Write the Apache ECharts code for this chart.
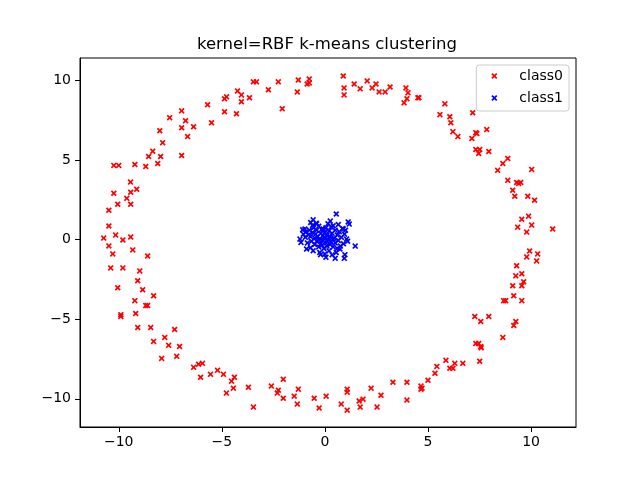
<!DOCTYPE html>
<html lang="en">
<head>
    <meta charset="UTF-8">
    <title>kernel=RBF k-means clustering</title>
    <script src="https://cdn.jsdelivr.net/npm/echarts/dist/echarts.min.js"></script>
    <style>
        html, body { margin: 0; padding: 0; background: #fff; }
        #paint { width: 640px; height: 480px; }
    </style>
</head>
<body>
<div id="paint"></div>

<script type="text/javascript">
    var titleText = 'kernel=RBF k-means clustering';
    var seriesNames = ['class0', 'class1'];
    var xTicks = [-10, -5, 0, 5, 10];
    var yTicks = [-10, -5, 0, 5, 10];

    // outer ring
    var class0 = [
        [-10.24,4.67],[-10.0,4.67],[-9.22,4.73],[-8.69,4.6],[-9.43,3.62],[-8.55,5.23],[-8.35,5.56],[-7.97,5.23],
        [-8.11,4.79],[-7.87,6.1],[-8.01,6.85],[-7.53,7.67],[-6.95,8.1],[-6.76,7.48],[-6.95,7.04],[-6.66,6.48],
        [-6.37,7.1],[-6.95,5.29],[-5.69,8.48],[-5.5,7.35],[-4.87,8.86],[-4.77,8.98],[-4.87,8.04],[-4.24,9.35],
        [-4.05,9.1],[-4.05,8.67],[-4.29,7.92],[-3.66,8.92],[-3.47,9.92],[-3.32,9.92],[-2.74,9.42],[-2.26,9.92],
        [-2.07,8.23],[-1.29,10.04],[-1.34,9.29],[-0.86,9.79],[-0.76,10.1],[-0.76,9.85],
        [0.89,10.29],[0.93,9.54],[0.93,9.1],[1.42,9.79],[1.71,9.48],[2.05,9.98],[2.29,9.54],[2.48,9.79],
        [2.63,9.29],[2.92,9.29],[3.16,9.6],[3.93,9.54],[4.03,9.23],[3.98,8.86],[3.84,8.6],[4.51,8.92],
        [4.56,8.92],[5.82,8.54],[5.58,7.86],[6.06,7.73],[6.11,7.35],[6.21,6.79],[6.45,6.48],[7.17,7.98],
        [7.13,6.36],[7.32,6.73],[7.37,6.67],[7.85,6.92],[7.32,5.67],[7.51,5.67],[7.46,5.42],[7.95,5.54],
        [8.87,5.1],[8.63,4.79],[8.38,4.36],[8.87,3.73],[9.3,3.6],[9.5,3.6],[10.03,4.42],
        [9.4,3.54],[9.11,3.11],[9.21,2.73],[9.84,2.73],[10.17,2.48],[9.88,1.48],[9.55,1.29],[9.35,0.79],
        [10.03,0.92],[9.79,0.48],[11.05,0.67],[9.93,-0.71],[10.32,-0.89],[9.79,-1.08],[10.27,-1.33],[9.3,-1.64],
        [9.55,-2.14],[9.26,-2.27],[9.64,-2.64],[9.11,-2.89],[9.55,-2.89],[9.16,-3.52],[8.67,-3.83],[8.77,-3.83],
        [9.55,-3.83],
        [7.27,-4.83],[7.56,-5.14],[7.95,-4.83],[9.16,-5.39],[9.26,-5.14],[8.63,-6.14],[7.32,-6.52],[7.46,-6.52],
        [7.56,-6.71],[7.58,-6.79],[7.51,-7.64],[5.87,-7.58],[5.43,-7.96],[6.06,-8.08],[6.21,-8.08],[6.3,-7.77],
        [6.69,-7.77],[5.34,-8.39],[5.0,-8.83],[4.66,-9.2],[4.71,-9.33],[4.66,-9.39],[3.98,-8.96],[3.3,-8.96],
        [3.98,-10.08],[2.72,-9.77],[2.24,-9.33],[1.85,-10.02],[1.66,-10.14],[1.71,-10.52],[2.53,-10.52],[1.08,-9.39],
        [1.08,-9.58],[0.79,-10.33],[1.08,-10.71],[0.06,-9.83],
        [-8.69,-4.14],[-8.6,-4.14],[-9.9,-4.71],[-9.9,-4.83],[-9.18,-4.64],[-9.08,-5.52],[-8.45,-5.52],[-8.31,-6.39],
        [-7.77,-6.14],[-7.58,-6.64],[-7.29,-5.64],[-7.05,-6.71],[-7.92,-7.46],[-7.19,-7.33],[-6.37,-8.02],[-6.13,-7.83],
        [-5.94,-7.77],[-6.03,-8.64],[-5.55,-8.46],[-5.21,-8.21],[-4.92,-8.46],[-4.53,-8.89],[-4.39,-8.64],[-4.78,-9.64],
        [-4.44,-9.33],[-3.71,-9.27],[-3.47,-10.52],[-2.6,-9.2],[-2.26,-9.46],[-2.31,-9.64],[-2.02,-8.77],[-2.02,-9.96],
        [-1.49,-9.83],[-1.29,-9.39],[-1.34,-10.33],[-0.52,-9.96],[-0.28,-10.58],
        [-10.24,2.92],[-9.42,2.98],[-9.13,3.17],[-9.61,2.6],[-10.05,2.23],[-9.42,2.23],[-10.48,1.85],[-10.48,0.86],
        [-10.73,0.1],[-10.15,0.29],[-9.8,-0.02],[-9.42,0.17],[-10.48,-0.39],[-10.29,-0.89],[-9.32,-0.64],[-8.6,-1.02],
        [-10.39,-1.77],[-9.8,-1.77],[-8.98,-1.96],[-9.08,-2.58],[-10.05,-3.02],[-8.84,-3.14],[-8.31,-3.52],[-9.22,-3.83]
    ];

    // inner blob
    var class1 = [
        [0.55,1.62],[0.26,1.17],[1.13,1.12],[1.18,0.98],[-0.57,1.25],[-0.69,1.08],[-0.42,1.04],[-0.97,0.67],
        [-1.08,0.63],[-1.21,0.04],[-1.16,-0.17],[-0.89,-0.58],[-0.57,-0.69],[-0.21,-0.94],[0.05,-1.1],[0.5,-1.17],
        [0.97,-0.94],[0.94,-1.17],[1.47,-0.4],[0.73,-0.58],[1.05,0.04],[0.89,0.67],[0.4,0.88],[-0.08,0.67],
        [-0.9,0.5],[-0.8,0.3],[-0.75,0.6],[-0.7,0.2],[-0.65,-0.1],[-0.6,0.45],[-0.55,0.75],[-0.5,0.1],
        [-0.5,-0.3],[-0.45,0.35],[-0.4,-0.1],[-0.4,0.6],[-0.35,0.2],[-0.3,-0.45],[-0.3,0.85],[-0.25,0.05],
        [-0.2,0.4],[-0.2,-0.25],[-0.15,0.65],[-0.1,-0.05],[-0.1,0.25],[-0.05,-0.55],[0,0.1],[0,0.45],
        [0.05,-0.2],[0.05,0.75],[0.1,0.3],[0.1,-0.4],[0.15,0.0],[0.2,0.55],[0.2,-0.7],[0.25,0.2],
        [0.3,-0.15],[0.3,0.8],[0.35,0.4],[0.4,-0.45],[0.45,0.1],[0.5,0.6],[0.5,-0.2],[0.55,-0.8],
        [0.6,0.3],[0.65,-0.05],[0.7,0.5],[0.75,-0.4],[0.8,0.15],[0.85,0.7],[0.9,-0.25],[0.95,0.35],
        [-0.85,-0.2],[-0.95,0.15],[-0.7,-0.5],[-0.6,0.9],[-0.25,-0.8],[0.0,-0.9],[0.35,-0.95],[0.15,1.0],
        [-0.4,1.0],[0.65,0.95],[1.0,0.6],[1.1,-0.1],[-1.05,0.35],[-0.15,-0.35],[0.25,-0.3],[-0.05,0.15],
        [0.1,-0.1],[0.4,0.05],[-0.3,0.0],[0.2,0.1],[-0.1,0.55],[0.6,-0.55]
    ];
</script>

<script type="text/javascript">
    var myChart = echarts.init(document.getElementById('paint'), null, {renderer: 'canvas'});
    var font = 'DejaVu Sans';
    // filled "x" marker like matplotlib's
    var xMark = 'path://M0,2L2,0L5,3L8,0L10,2L7,5L10,8L8,10L5,7L2,10L0,8L3,5Z';

    function minus(v) {
        return String(v).replace('-', '\u2212');
    }

    var option = {
        animation: false,
        title: {
            text: titleText,
            left: 192,
            top: 31,
            textStyle: { fontFamily: font, fontSize: 16.5, fontWeight: 'normal', color: '#000' }
        },
        legend: {
            orient: 'vertical',
            right: 71,
            top: 65,
            padding: [4, 6, 6, 15],
            itemGap: 8,
            itemWidth: 6,
            itemHeight: 6,
            borderColor: '#cccccc',
            borderWidth: 1,
            borderRadius: 3,
            backgroundColor: 'rgba(255,255,255,0.8)',
            textStyle: { fontFamily: font, fontSize: 14, color: '#000', lineHeight: 14, padding: [0, 0, 0, 17] },
            data: [
                { name: seriesNames[0], icon: xMark },
                { name: seriesNames[1], icon: xMark }
            ]
        },
        grid: {
            left: 80, right: 64, top: 58, bottom: 53,
            show: true, borderColor: '#000', borderWidth: 1
        },
        xAxis: {
            type: 'value',
            min: -11.88,
            max: 12.18,
            splitLine: { show: false },
            axisLine: { show: true, onZero: false, lineStyle: { color: '#000' } },
            axisTick: { show: true, length: 5, inside: false, customValues: xTicks, lineStyle: { color: '#000' } },
            axisLabel: {
                customValues: xTicks, margin: 8, color: '#000',
                fontFamily: font, fontSize: 14, formatter: minus
            }
        },
        yAxis: {
            type: 'value',
            min: -11.77,
            max: 11.42,
            splitLine: { show: false },
            axisLine: { show: true, onZero: false, lineStyle: { color: '#000' } },
            axisTick: { show: true, length: 5, inside: false, customValues: yTicks, lineStyle: { color: '#000' } },
            axisLabel: {
                customValues: yTicks, margin: 9, color: '#000',
                fontFamily: font, fontSize: 14, formatter: minus
            }
        },
        series: [
            {
                name: seriesNames[0],
                type: 'scatter',
                symbol: xMark,
                symbolSize: 6,
                itemStyle: { color: '#ff0000', opacity: 1 },
                data: class0
            },
            {
                name: seriesNames[1],
                type: 'scatter',
                symbol: xMark,
                symbolSize: 6,
                itemStyle: { color: '#0000ff', opacity: 1 },
                data: class1
            }
        ]
    };
    myChart.setOption(option);
</script>
</body>
</html>
